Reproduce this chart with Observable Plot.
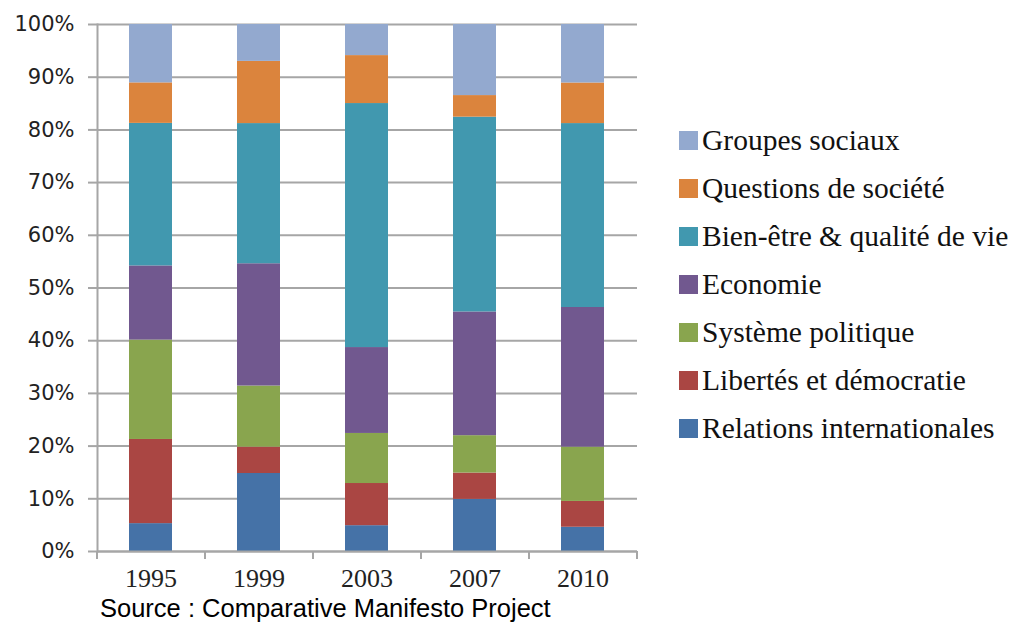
<!DOCTYPE html>
<html>
<head>
<meta charset="utf-8">
<script src="https://cdn.jsdelivr.net/npm/d3@7"></script>
<script src="https://cdn.jsdelivr.net/npm/@observablehq/plot@0.6"></script>
<style>
  body { margin: 0; background: #fff; }
  #wrap { position: relative; width: 1013px; height: 622px; overflow: hidden; }
  #legend { position: absolute; left: 679px; top: 116px; font-family: "Liberation Serif", "Times New Roman", serif; font-size: 29.5px; color: #111; }
  .item { display: flex; align-items: center; height: 48px; white-space: nowrap; }
  .sw { width: 19px; height: 19px; margin-right: 4px; flex: none; }
  #caption { font-family: "Liberation Sans", Arial, sans-serif; font-size: 25.5px; line-height: 24px; padding-left: 100px; margin-top: 1px; color: #000; white-space: nowrap; }
</style>
</head>
<body>
<div id="wrap">
  <div id="chart"></div>
  <div id="legend"></div>
  <div id="caption">Source : Comparative Manifesto Project</div>
</div>
<script>
const years = ["1995", "1999", "2003", "2007", "2010"];
// stacking order: bottom to top
const categories = [
  "Relations internationales",
  "Libertés et démocratie",
  "Système politique",
  "Economie",
  "Bien-être & qualité de vie",
  "Questions de société",
  "Groupes sociaux"
];
const colors = ["#4572A7", "#AA4643", "#89A54E", "#71588F", "#4198AF", "#DB843D", "#93A9CF"];

// shares (%) per category, in year order
const relations   = [5.3, 14.8, 4.9, 9.9, 4.6];
const libertes    = [16.0, 5.0, 8.0, 5.0, 4.9];
const systeme     = [18.9, 11.6, 9.5, 7.1, 10.3];
const economie    = [14.1, 23.2, 16.3, 23.5, 26.5];
const bienEtre    = [27.1, 26.6, 46.3, 37.0, 34.9];
const questions   = [7.7, 11.8, 9.1, 4.1, 7.7];
const groupes     = [11.1, 7.0, 5.9, 13.5, 11.1];

const yTicks = [0, 0.1, 0.2, 0.3, 0.4, 0.5, 0.6, 0.7, 0.8, 0.9, 1];

const series = [relations, libertes, systeme, economie, bienEtre, questions, groupes];
const data = [];
categories.forEach((cat, ci) => {
  years.forEach((yr, yi) => data.push({year: yr, cat, value: series[ci][yi]}));
});

const W = 1013, H = 595, ML = 97, MR = 376, MT = 24, MB = 44;
const halfStep = (W - ML - MR) / years.length / 2;
const grid = "#A6A6A6";

const chart = Plot.plot({
  width: W,
  height: H,
  marginLeft: ML,
  marginRight: MR,
  marginTop: MT,
  marginBottom: MB,
  style: {background: "#fff", overflow: "visible"},
  x: {type: "band", domain: years, paddingInner: 0.6, paddingOuter: 0.3, label: null},
  y: {domain: [0, 1], label: null},
  color: {domain: categories, range: colors},
  marks: [
    Plot.ruleY(yTicks, {stroke: grid, strokeWidth: 2}),
    Plot.barY(data, Plot.stackY({offset: "normalize", x: "year", y: "value", fill: "cat", order: categories})),
    Plot.frame({anchor: "left", stroke: grid, strokeWidth: 2}),
    Plot.ruleY([0], {stroke: grid, strokeWidth: 2}),
    Plot.axisY({ticks: yTicks, tickFormat: d3.format(".0%"), tickSize: 9, tickPadding: 14, stroke: grid, strokeWidth: 2, fill: "#222", fontSize: 21, fontFamily: "DejaVu Sans", label: null}),
    Plot.axisX({tickSize: 0, tickPadding: 17, fill: "#222", fontSize: 26, fontFamily: "Liberation Serif", label: null}),
    Plot.axisX({tickSize: 8, text: null, dx: -halfStep, stroke: grid, strokeWidth: 2, label: null}),
    Plot.axisX({ticks: [years[years.length - 1]], tickSize: 8, text: null, dx: halfStep, stroke: grid, strokeWidth: 2, label: null})
  ]
});
document.getElementById("chart").appendChild(chart);

const legend = document.getElementById("legend");
categories.slice().reverse().forEach(cat => {
  const item = document.createElement("div");
  item.className = "item";
  const sw = document.createElement("span");
  sw.className = "sw";
  sw.style.background = colors[categories.indexOf(cat)];
  const t = document.createElement("span");
  t.textContent = cat;
  item.appendChild(sw);
  item.appendChild(t);
  legend.appendChild(item);
});
</script>
</body>
</html>
